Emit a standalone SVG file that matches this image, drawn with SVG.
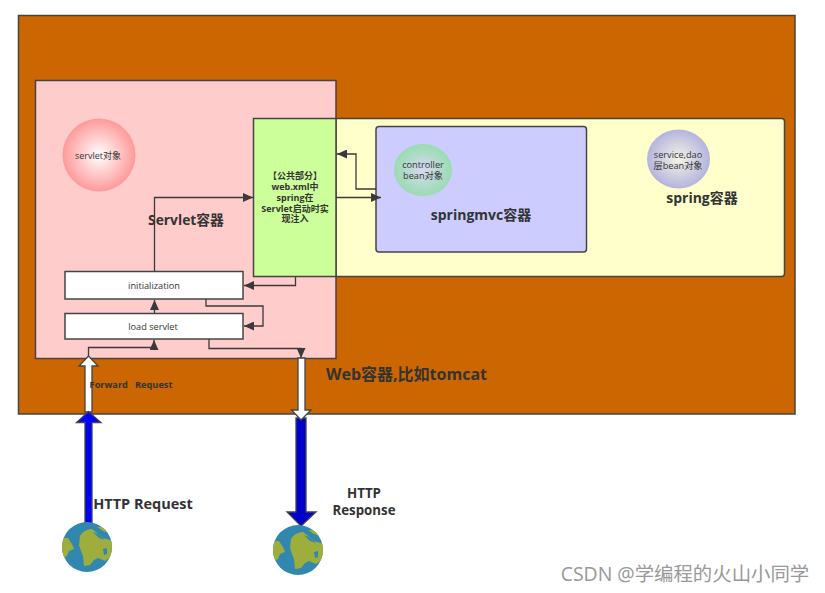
<svg xmlns="http://www.w3.org/2000/svg" width="825" height="593" viewBox="0 0 825 593">
<style>
text{font-family:"Open Sans","Noto Sans CJK SC",sans-serif;fill:#333;text-anchor:middle}
.b{font-weight:700}
.box{stroke:#444;stroke-width:1.5}
.c{fill:none;stroke:#3a3a3a;stroke-width:1.3}
.big{stroke:#444;stroke-width:1.3}
.sea{fill:#3187ad}
.land{fill:#9dae3c}
</style>
<defs>
<marker id="a" markerUnits="userSpaceOnUse" markerWidth="11" markerHeight="9" refX="10" refY="4.500" orient="auto"><path d="M0 0L10 4.500L0 9Z" fill="#3a3a3a"/></marker>
<radialGradient id="g1"><stop offset="0" stop-color="#fff"/><stop offset="1" stop-color="#ff9999"/></radialGradient>
<radialGradient id="g2"><stop offset="0" stop-color="#d8d8f4"/><stop offset="1" stop-color="#99dcb0"/></radialGradient>
<radialGradient id="g3"><stop offset="0" stop-color="#f4f4e6"/><stop offset="1" stop-color="#b4b4de"/></radialGradient>
<clipPath id="gc"><circle cx="0" cy="0" r="25"/></clipPath>
<g id="globe">
<circle r="25" class="sea"/>
<g clip-path="url(#gc)">
<path class="land" d="M-7-11C-4-16 1-18 5-18L9-15L16-9L26-6L26 8L18 14L11 11L7 13L3 18L-3 19L-4 9L-6 4L-8-2Z"/>
<path class="land" d="M-26-9L-19-9L-15-3L-13 2L-18 4L-20 9L-26 12Z"/>
<path class="land" d="M10-20L16-20L21-14L16-16Z"/>
<path class="sea" d="M6-15L11-13L18-7L12-9Z"/>
<path class="sea" d="M16 2L20 1L20 7L17 8Z"/>
</g>
</g>
</defs>
<rect width="825" height="593" fill="#fff"/>
<g id="web-container"><rect class="box" x="18.5" y="15.5" width="776.5" height="398.5" fill="#cc6600"/>
<text class="b" x="406.500" y="380" font-size="16">Web容器,比如tomcat</text></g>
<g id="spring-container"><rect class="box" x="253.500" y="118.500" width="531" height="158" rx="3" fill="#ffffcc"/>
<text class="b" x="702" y="203" font-size="14">spring容器</text></g>
<g id="servlet-container"><rect class="box" x="35.500" y="80.500" width="300.500" height="278" fill="#ffcccc"/>
<text class="b" x="186" y="225" font-size="13.800">Servlet容器</text></g>
<g id="public-part"><rect class="box" x="253.500" y="118.500" width="82.500" height="158" fill="#ccff99"/>
<text class="b" font-size="9"><tspan x="295" y="179">【公共部分】</tspan><tspan x="295" y="190">web.xml中</tspan><tspan x="295" y="201">spring在</tspan><tspan x="295" y="211.500">Servlet启动时实</tspan><tspan x="295" y="222">现注入</tspan></text></g>
<g id="springmvc-container"><rect class="box" x="376" y="126.500" width="210.500" height="125.500" rx="3" fill="#ccccff"/>
<text class="b" x="481" y="220" font-size="14">springmvc容器</text></g>
<g id="servlet-object"><circle cx="99" cy="155" r="36.500" fill="url(#g1)"/><text x="98" y="159" font-size="9">servlet对象</text></g>
<g id="controller-bean"><ellipse cx="423" cy="170" rx="29" ry="26" fill="url(#g2)"/><text font-size="9.200"><tspan x="423" y="168">controller</tspan><tspan x="423" y="179">bean对象</tspan></text></g>
<g id="service-bean"><ellipse cx="678.500" cy="159" rx="31.500" ry="29.500" fill="url(#g3)"/><text font-size="9.200"><tspan x="678" y="158">service,dao</tspan><tspan x="678" y="168.500">层bean对象</tspan></text></g>
<g id="initialization"><rect class="box" x="65" y="271.500" width="178" height="27.500" fill="#fff"/><text x="154" y="289" font-size="9.200">initialization</text></g>
<g id="load-servlet"><rect class="box" x="65" y="313.500" width="178" height="25.500" fill="#fff"/><text x="153" y="330" font-size="9.200">load servlet</text></g>
<g id="connectors">
<path class="c" marker-end="url(#a)" d="M154.500 271V197.500H253"/>
<path class="c" marker-end="url(#a)" d="M154.500 313V300"/>
<path class="c" marker-end="url(#a)" d="M295.500 277V285.500H244"/>
<path class="c" marker-end="url(#a)" d="M206 299V306H263V326H244"/>
<path class="c" marker-end="url(#a)" d="M209 339V348.500H301V358"/>
<path class="c" marker-end="url(#a)" d="M88.500 356V347.500H154V340"/>
<path class="c" marker-end="url(#a)" d="M376 189H356V154H337"/>
<path class="c" marker-end="url(#a)" d="M336 197.500H381"/>
<path class="big" fill="#fff" d="M85 412V366H79L88.500 356L98 366H92V412Z"/>
<path class="big" fill="#0000ff" d="M85 525V422.500H76.500L88.500 411.500L101 422.500H92V525Z"/>
<path class="big" fill="#0000cc" d="M296 418V512H287L301 526L316 512H306V418Z"/>
<path class="big" fill="#fff" d="M298 358V410H291.500L301 420L311 410H305V358Z"/>
</g>
<g id="forward-label"><text class="b" x="131" y="388" font-size="9.200" xml:space="preserve">Forward   Request</text></g>
<g id="client-request"><use href="#globe" x="87" y="547"/><text class="b" x="143" y="509" font-size="14.500">HTTP Request</text></g>
<g id="client-response"><use href="#globe" x="298" y="550"/><text class="b" font-size="13.300"><tspan x="364" y="498">HTTP</tspan><tspan x="364" y="515">Response</tspan></text></g>
<text x="685" y="581" font-size="19.400" style="fill:#999">CSDN @学编程的火山小同学</text>
</svg>
